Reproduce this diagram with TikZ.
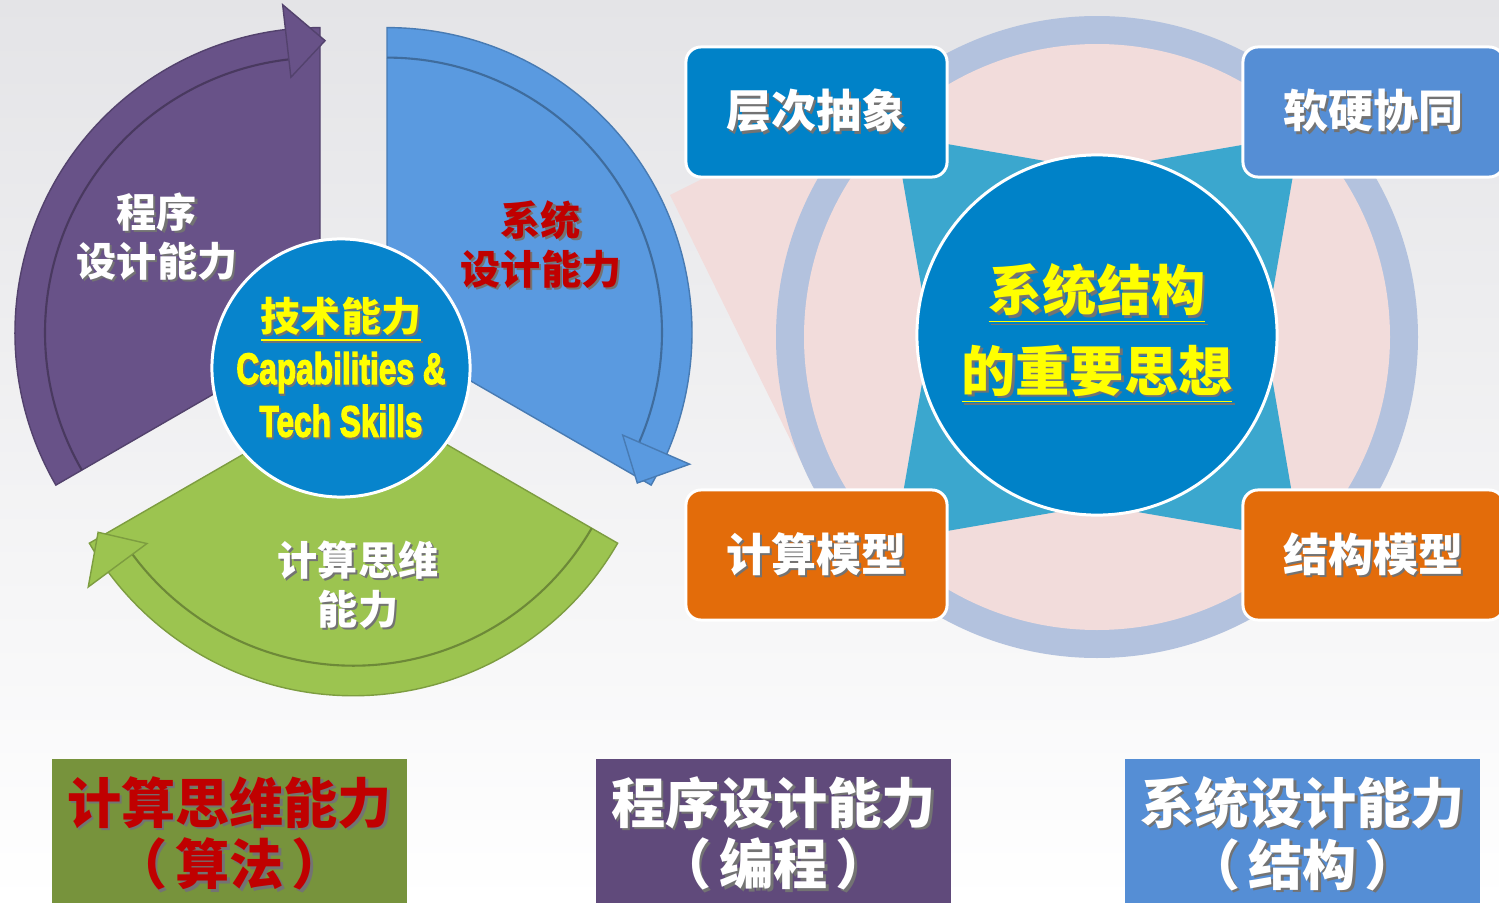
\documentclass[tikz,border=0pt]{standalone}
\usepackage{fontspec}
\newfontfamily\cjk{Noto Sans CJK SC}
\newfontfamily\latin{Liberation Sans}[FakeBold=3]
\usetikzlibrary{calc}
\definecolor{bgtop}{HTML}{E4E4E7}
\definecolor{segpurple}{HTML}{685288}
\definecolor{segblue}{HTML}{5A9AE0}
\definecolor{seggreen}{HTML}{9CC450}
\definecolor{hubblue}{HTML}{0784CC}
\definecolor{deepblue}{HTML}{0082C8}
\definecolor{softblue}{HTML}{558ED5}
\definecolor{tangerine}{HTML}{E36C0A}
\definecolor{olive}{HTML}{77933C}
\definecolor{plum}{HTML}{604A7B}
\definecolor{ringgray}{HTML}{B3C2DE}
\definecolor{blush}{HTML}{F2DCDB}
\definecolor{lagoon}{HTML}{3BA7CE}
\definecolor{crimson}{HTML}{C00000}
\definecolor{lemon}{HTML}{FFFF00}
% text with a soft drop shadow
\newcommand\shd[1]{\leavevmode\rlap{\hspace{0.05em}\raisebox{-0.05em}{\color{black!55}#1}}#1}
\tikzset{
  lbl/.style={align=center, font=\cjk\bfseries\fontsize{11.4}{14}\selectfont},
  disc/.style={circle, draw=white, line width=0.85pt, inner sep=0pt, align=center, text=lemon},
  cornerbox/.style={draw=white, line width=0.85pt, rounded corners=0.15cm, minimum width=2.61cm, minimum height=1.30cm, text=white, font=\cjk\bfseries\fontsize{12.8}{15}\selectfont},
  footbox/.style={anchor=north, minimum width=3.55cm, minimum height=1.52cm, inner sep=0pt, align=center, font=\cjk\bfseries\fontsize{15.4}{17.6}\selectfont},
}

\begin{document}
\begin{tikzpicture}[x=0.01cm, y=0.01cm]
  \useasboundingbox (0,0) rectangle (1499,-903);
  \clip (0,0) rectangle (1499,-903);
  \shade[top color=bgtop, bottom color=white] (0,0) rectangle (1499,-903);

  % pale wedge behind the ring
  \fill[blush] (670,-195) -- (720,-170) -- (950,-170) -- (950,-337) -- (820,-500) -- cycle;

  % three pieces of the circular arrow
  \foreach \cx/\cy/\a/\col in {320/332.6/210/segpurple, 387/332.6/90/segblue, 353.5/390.7/-30/seggreen}{
    \begin{scope}[shift={(\cx,-\cy)}]
      \pgfmathsetmacro\b{\a-120}
      \filldraw[fill=\col, draw=\col!80!black, line width=0.4pt] (0,0) -- (\a:305) arc[start angle=\a, end angle=\b, radius=305] -- cycle;
      \draw[\col!70!black, line width=0.6pt] (\a:275) arc[start angle=\a, end angle=\b+6.5, radius=275];
      \filldraw[fill=\col, draw=\col!80!black, line width=0.4pt] ({\b+6.5}:257) -- ({\b+6.5}:330) -- ({\b-1}:292) -- cycle;
    \end{scope}}

  \node[disc, fill=hubblue, minimum size=2.58cm, font=\cjk\bfseries\fontsize{11.4}{15}\selectfont] (hub) at (341,-368)
    {\shd{\underline{技术能力}}\\
     \scalebox{0.72}[1]{\fontsize{12.5}{15}\latin\shd{Capabilities \&}}\\
     \scalebox{0.72}[1]{\fontsize{12.5}{15}\latin\shd{Tech Skills}}};

  \node[lbl, text=white] (prog) at (157,-238) {\shd{程序}\\\shd{设计能力}};
  \node[lbl, text=crimson] (sys) at (541,-246) {\shd{系统}\\\shd{设计能力}};
  \node[lbl, text=white] (comp) at (358,-586) {\shd{计算思维}\\\shd{能力}};

  % right: ring, star and centre disc
  \fill[ringgray] (1097,-337) circle (321);
  \fill[blush] (1097,-337) circle (293);
  \fill[lagoon] (895,-135) -- (1097,-170) -- (1300,-135) -- (1265,-337) -- (1300,-540)
    -- (1097,-505) -- (895,-540) -- (930,-337) -- cycle;
  \node[disc, fill=deepblue, minimum size=3.6cm, font=\cjk\bfseries\fontsize{15.4}{22.8}\selectfont] (core) at (1097,-335)
    {\shd{\underline{系统结构}}\\\shd{\underline{的重要思想}}};

  \node[cornerbox, fill=deepblue] (layer) at (816.5,-112) {\shd{层次抽象}};
  \node[cornerbox, fill=softblue] (cosyn) at (1373.5,-112) {\shd{软硬协同}};
  \node[cornerbox, fill=tangerine] (cmodel) at (816.5,-555) {\shd{计算模型}};
  \node[cornerbox, fill=tangerine] (smodel) at (1373.5,-555) {\shd{结构模型}};

  % bottom row
  \node[footbox, fill=olive, text=crimson] (algo) at (229.5,-758) {\shd{计算思维能力}\\\shd{（\hspace{0.15em}算法\hspace{0.15em}）}};
  \node[footbox, fill=plum, text=white] (code) at (773.5,-758) {\shd{程序设计能力}\\\shd{（\hspace{0.15em}编程\hspace{0.15em}）}};
  \node[footbox, fill=softblue, text=white] (arch) at (1302.5,-758) {\shd{系统设计能力}\\\shd{（\hspace{0.15em}结构\hspace{0.15em}）}};
\end{tikzpicture}
\end{document}
